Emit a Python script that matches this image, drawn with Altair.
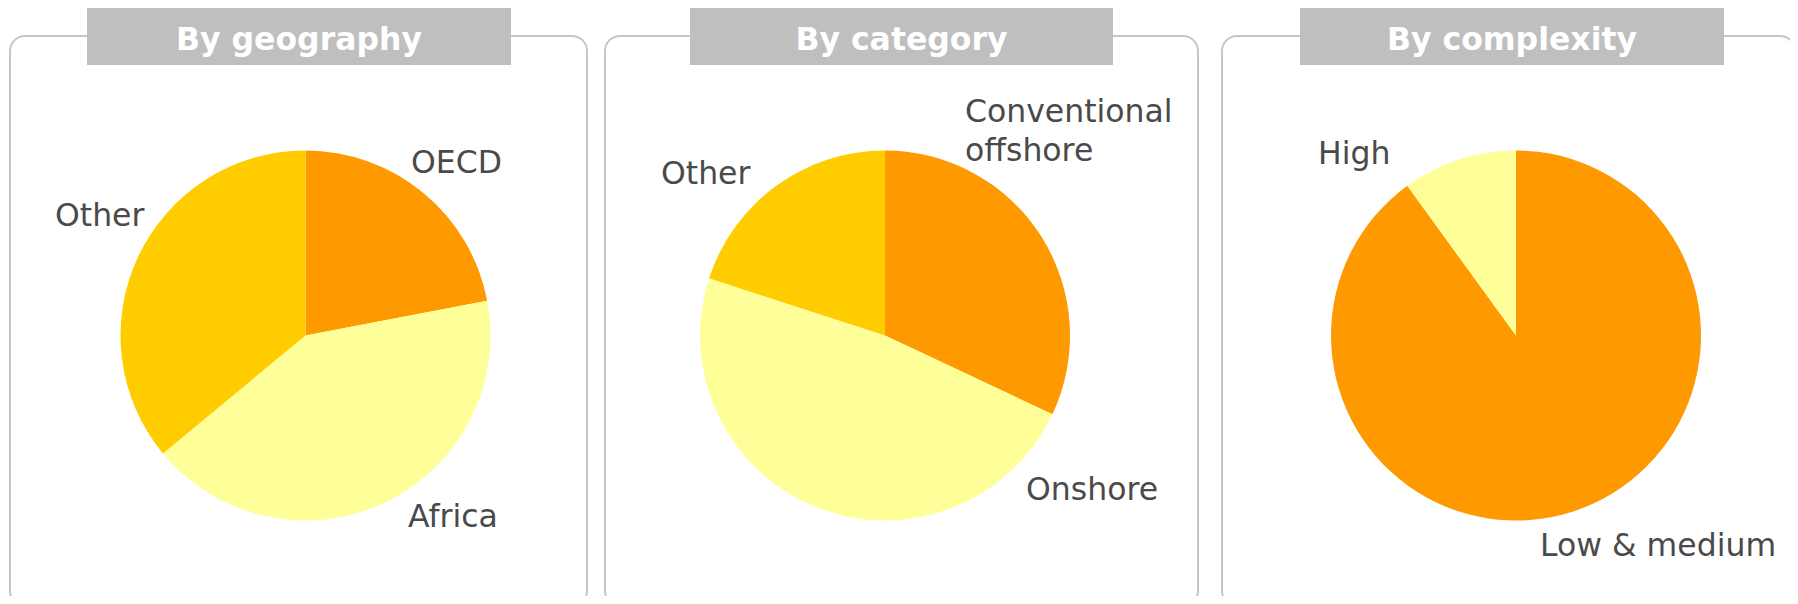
import altair as alt
import pandas as pd

# ---- data ----
titles = ["By geography", "By category", "By complexity"]

geo_labels = ["OECD", "Africa", "Other"]
geo_values = [22, 42, 36]

cat_labels = ["Conventional\noffshore", "Onshore", "Other"]
cat_values = [32, 48, 20]

cpx_labels = ["Low & medium", "High"]
cpx_values = [90, 10]

# ---- styles ----
ORANGE = "#FF9900"
GOLD = "#FFCC00"
PALE = "#FFFF99"
BORDER = "#C6C6C6"
BOX = "#BFBFBF"
TEXT = "#4A4A4A"
FONT = "DejaVu Sans"

pies = [
    (geo_labels, geo_values, [ORANGE, PALE, GOLD]),
    (cat_labels, cat_values, [ORANGE, PALE, GOLD]),
    (cpx_labels, cpx_values, [ORANGE, PALE]),
]

# ---- layout (page pixels; chart origin is at page 8,8) ----
M = 8
layout = [
    dict(border=(10, 587), box=(87, 511), center=(305.5, 335.5),
         labels=[(411, 173), (408, 527), (55, 226)]),
    dict(border=(605, 1198), box=(690, 1113), center=(885, 335.5),
         labels=[(965, 122), (1026, 500), (661, 184)]),
    dict(border=(1222, 1795), box=(1300, 1724), center=(1516, 335.5),
         labels=[(1540, 556), (1318, 164)]),
]
RADIUS = 185

layers = []
for i, (title, (labels, values, colors), lay) in enumerate(zip(titles, pies, layout)):
    one = pd.DataFrame({"t": [title]})
    bx0, bx1 = lay["border"]
    border = alt.Chart(one).mark_rect(
        filled=False, stroke=BORDER, strokeWidth=2, cornerRadius=15
    ).encode(
        x=alt.value(bx0 - M), x2=alt.value(bx1 - M),
        y=alt.value(36 - M), y2=alt.value(606 - M),
    )
    tx0, tx1 = lay["box"]
    box = alt.Chart(one).mark_rect(fill=BOX).encode(
        x=alt.value(tx0 - M), x2=alt.value(tx1 - M),
        y=alt.value(8 - M), y2=alt.value(65 - M),
    )
    ttext = alt.Chart(one).mark_text(
        font=FONT, fontSize=31.5, fontWeight="bold", color="white",
        align="center", baseline="alphabetic"
    ).encode(
        text="t:N",
        x=alt.value((tx0 + tx1) / 2 - M), y=alt.value(50 - M),
    )
    df = pd.DataFrame({"label": labels, "value": values, "idx": list(range(len(labels)))})
    cx, cy = lay["center"]
    pie = alt.Chart(df).mark_arc(radius=RADIUS).encode(
        theta=alt.Theta("value:Q", stack=True),
        color=alt.Color("label:N", scale=alt.Scale(domain=labels, range=colors), legend=None),
        order=alt.Order("idx:Q"),
        x=alt.value(cx - M), y=alt.value(cy - M),
    )
    layers += [border, box, ttext, pie]
    for j, (lx, ly) in enumerate(lay["labels"]):
        lab = alt.Chart(df.iloc[[j]]).mark_text(
            font=FONT, fontSize=31.5, color=TEXT, align="left",
            baseline="alphabetic", lineBreak="\n", lineHeight=39
        ).encode(
            text="label:N",
            x=alt.value(lx - M), y=alt.value(ly - M),
        )
        layers.append(lab)

chart = alt.layer(*layers).resolve_scale(
    color="independent", theta="independent"
).properties(
    width=1782, height=588, autosize=alt.AutoSizeParams(type="none"), padding=0,
    background="white"
).configure_view(stroke=None)

chart.save("out.html", embed_options={"renderer": "svg", "actions": False})
